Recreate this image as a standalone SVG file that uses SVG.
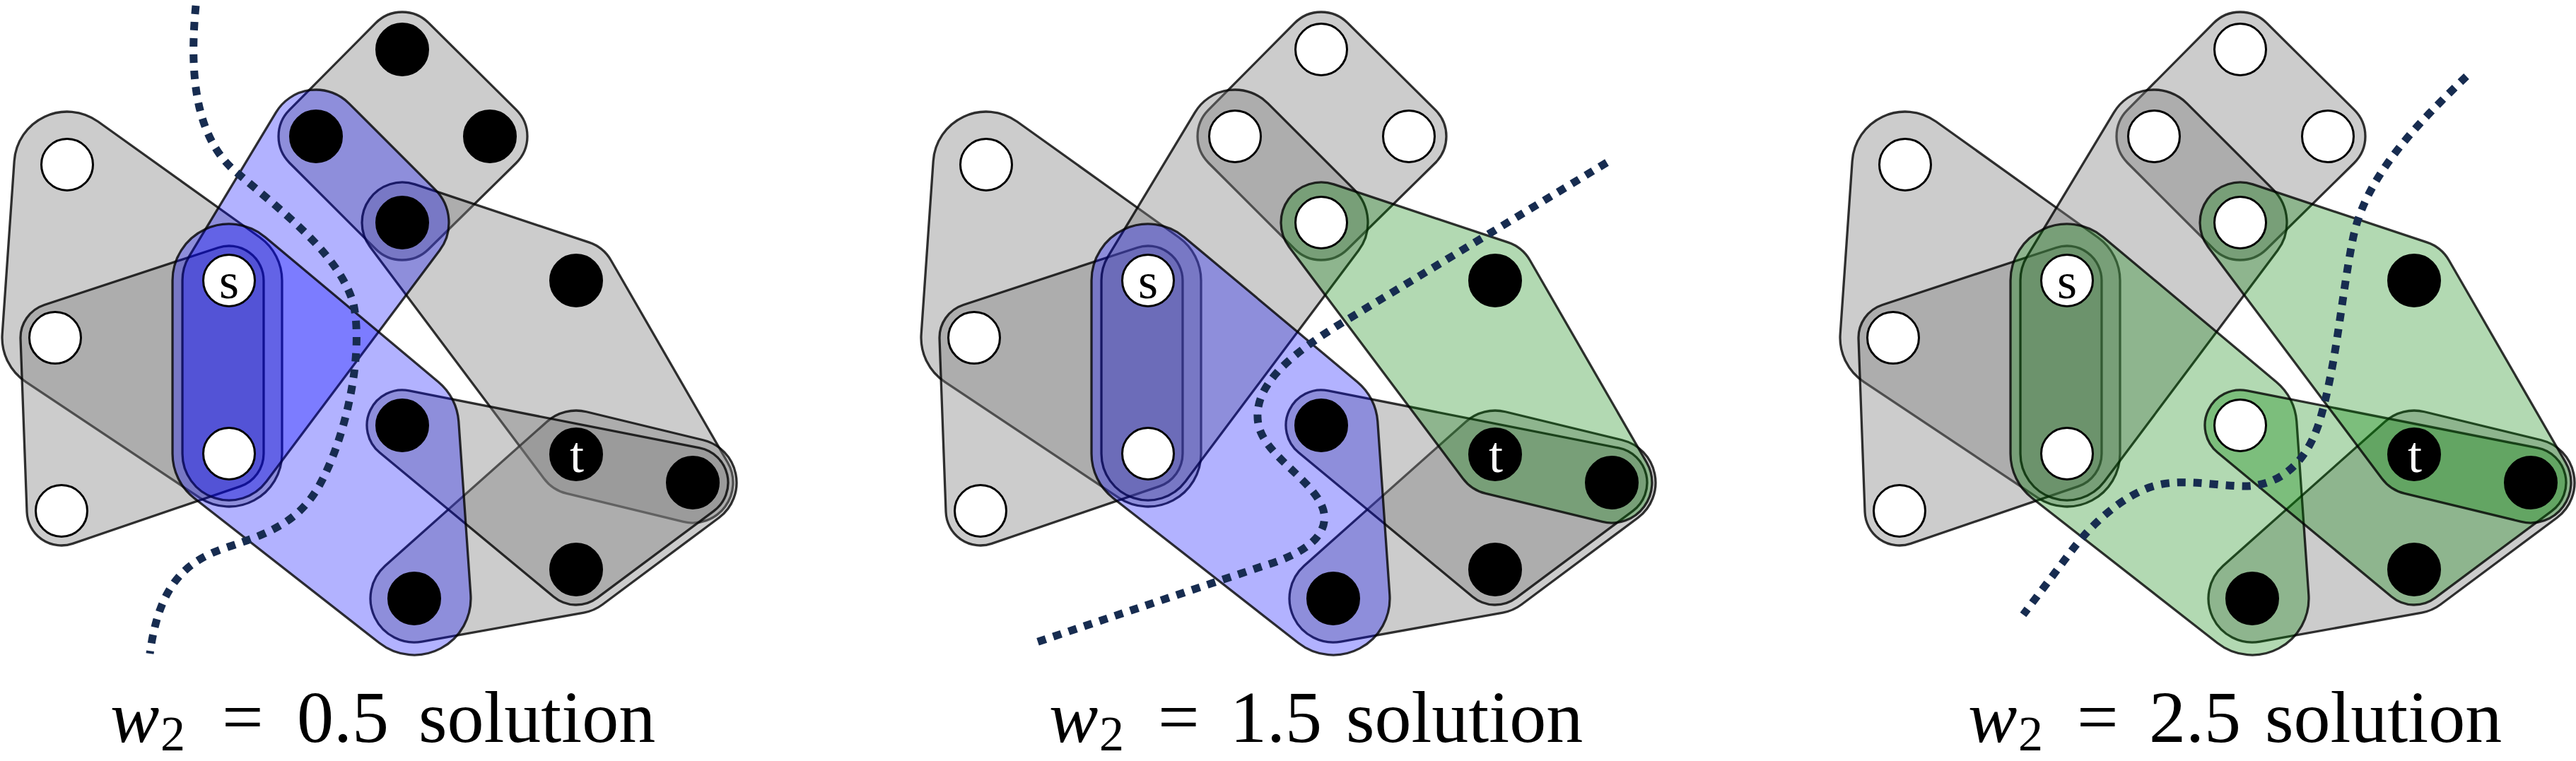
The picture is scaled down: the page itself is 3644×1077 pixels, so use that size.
<svg xmlns="http://www.w3.org/2000/svg" width="3644" height="1077" viewBox="0 0 3644 1077">
<style>
.he{stroke:#000;stroke-opacity:0.8;stroke-width:3.3;stroke-linejoin:round}
.gray{fill:#808080;fill-opacity:0.4}
.blue{fill:#0000ff;fill-opacity:0.3}
.green{fill:#008000;fill-opacity:0.3}
.wn{fill:#fff;stroke:#000;stroke-width:3}
.bn{fill:#000;stroke:#000;stroke-width:3}
.cut{fill:none;stroke:#172c50;stroke-width:11;stroke-dasharray:12 11}
.lbl{font-size:72px;text-anchor:middle}
.cap{font-size:104px;fill:#000}
</style>
<defs>
<path id="T1" d="M138.67,172.02 L367.67,336.02 A75,75 0 0 1 399,397 L399,642 A75,75 0 0 1 282.40,704.40 L36.40,540.40 A75,75 0 0 1 3.18,472.81 L20.18,227.81 A75,75 0 0 1 138.67,172.02 Z"/>
<path id="T2" d="M62.68,431.46 L308.68,350.46 A49,49 0 0 1 373,397 L373,642 A49,49 0 0 1 339.85,688.37 L102.85,769.37 A49,49 0 0 1 38.03,724.80 L29.03,479.80 A49,49 0 0 1 62.68,431.46 Z"/>
<path id="D" d="M606.32,32.37 L730.32,155.37 A53,53 0 0 1 730.17,230.78 L606.17,352.78 A53,53 0 0 1 531.52,352.48 L409.52,230.48 A53,53 0 0 1 409.37,155.68 L531.37,32.68 A53,53 0 0 1 606.32,32.37 Z"/>
<path id="X" d="M493.67,146.33 L615.67,268.33 A66,66 0 0 1 621.82,354.57 L376.82,681.57 A66,66 0 0 1 258,642 L258,397 A66,66 0 0 1 267.48,362.92 L390.48,158.92 A66,66 0 0 1 493.67,146.33 Z"/>
<path id="B" d="M375.34,335.65 L620.34,540.65 A80,80 0 0 1 648.81,596.46 L665.81,841.46 A80,80 0 0 1 536.70,910.01 L274.70,705.01 A80,80 0 0 1 244,642 L244,397 A80,80 0 0 1 375.34,335.65 Z"/>
<path id="Q1" d="M587.02,260.93 L833.02,342.93 A57,57 0 0 1 864.37,368.52 L1029.37,654.52 A57,57 0 0 1 966.57,738.40 L801.57,698.40 A57,57 0 0 1 769.4,677.2 L523.4,349.2 A57,57 0 0 1 587.02,260.93 Z"/>
<path id="Q2" d="M829.61,582.75 L994.61,622.75 A62,62 0 0 1 1017.06,732.71 L852.06,855.71 A62,62 0 0 1 825.93,867.03 L596.93,908.03 A62,62 0 0 1 544.76,800.71 L773.76,596.71 A62,62 0 0 1 829.61,582.75 Z"/>
<path id="P" d="M578.67,552.94 L989.67,633.94 A50,50 0 0 1 1009.88,723.09 L844.88,846.09 A50,50 0 0 1 783.08,844.49 L537.08,640.49 A50,50 0 0 1 578.67,552.94 Z"/>
</defs>
<rect width="3644" height="1077" fill="#fff"/>

<g id="panel1">
 <g id="p1-hyperedges">
  <use href="#T1" class="he gray"/>
  <use href="#T2" class="he gray"/>
  <use href="#D" class="he gray"/>
  <use href="#Q1" class="he gray"/>
  <use href="#Q2" class="he gray"/>
  <use href="#P" class="he gray"/>
  <use href="#X" class="he blue"/>
  <use href="#B" class="he blue"/>
 </g>
 <g id="p1-connectors">
  <path class="cut" d="M277,8 C268,100 275,190 330,240 C400,300 480,360 500,430 C515,500 490,620 450,690 C420,740 380,755 320,775 C260,795 225,830 212,925"/>
 </g>
 <g id="p1-nodes">
  <g id="p1-n1"><circle class="bn" cx="569" cy="70" r="36.5"/></g>
  <g id="p1-n2"><circle class="bn" cx="693" cy="193" r="36.5"/></g>
  <g id="p1-n3"><circle class="bn" cx="447" cy="193" r="36.5"/></g>
  <g id="p1-n4"><circle class="bn" cx="569" cy="315" r="36.5"/></g>
  <g id="p1-n5"><circle class="bn" cx="815" cy="397" r="36.5"/></g>
  <g id="p1-n6"><circle class="wn" cx="95" cy="233" r="36.5"/></g>
  <g id="p1-s"><circle class="wn" cx="324" cy="397" r="36.5"/><text class="lbl" font-family="'Liberation Serif','DejaVu Serif',serif" x="324" y="422">s</text></g>
  <g id="p1-n8"><circle class="wn" cx="78" cy="478" r="36.5"/></g>
  <g id="p1-n9"><circle class="wn" cx="324" cy="642" r="36.5"/></g>
  <g id="p1-n10"><circle class="wn" cx="87" cy="723" r="36.5"/></g>
  <g id="p1-n11"><circle class="bn" cx="569" cy="602" r="36.5"/></g>
  <g id="p1-t"><circle class="bn" cx="815" cy="643" r="36.5"/><text class="lbl" font-family="'Liberation Serif','DejaVu Serif',serif" x="816" y="668" fill="#fff">t</text></g>
  <g id="p1-n13"><circle class="bn" cx="980" cy="683" r="36.5"/></g>
  <g id="p1-n14"><circle class="bn" cx="815" cy="806" r="36.5"/></g>
  <g id="p1-n15"><circle class="bn" cx="586" cy="847" r="36.5"/></g>
 </g>
 <text id="p1-caption" class="cap" font-family="'Liberation Serif','DejaVu Serif',serif" y="1050"><tspan x="156" font-style="italic">w</tspan><tspan x="227" dy="12" font-size="70">2</tspan><tspan x="314" dy="-12">=</tspan><tspan x="420">0.5</tspan><tspan x="592">solution</tspan></text>
</g>

<g id="panel2" transform="translate(1300,0)">
 <g id="p2-hyperedges">
  <use href="#T1" class="he gray"/>
  <use href="#T2" class="he gray"/>
  <use href="#D" class="he gray"/>
  <use href="#X" class="he gray"/>
  <use href="#Q2" class="he gray"/>
  <use href="#P" class="he gray"/>
  <use href="#B" class="he blue"/>
  <use href="#Q1" class="he green"/>
 </g>
 <g id="p2-connectors">
  <path class="cut" d="M973,230 L590,462 C530,500 470,545 480,600 C488,645 560,680 572,722 C582,760 540,785 490,800 L163,910"/>
 </g>
 <g id="p2-nodes">
  <g id="p2-n1"><circle class="wn" cx="569" cy="70" r="36.5"/></g>
  <g id="p2-n2"><circle class="wn" cx="693" cy="193" r="36.5"/></g>
  <g id="p2-n3"><circle class="wn" cx="447" cy="193" r="36.5"/></g>
  <g id="p2-n4"><circle class="wn" cx="569" cy="315" r="36.5"/></g>
  <g id="p2-n5"><circle class="bn" cx="815" cy="397" r="36.5"/></g>
  <g id="p2-n6"><circle class="wn" cx="95" cy="233" r="36.5"/></g>
  <g id="p2-s"><circle class="wn" cx="324" cy="397" r="36.5"/><text class="lbl" font-family="'Liberation Serif','DejaVu Serif',serif" x="324" y="422">s</text></g>
  <g id="p2-n8"><circle class="wn" cx="78" cy="478" r="36.5"/></g>
  <g id="p2-n9"><circle class="wn" cx="324" cy="642" r="36.5"/></g>
  <g id="p2-n10"><circle class="wn" cx="87" cy="723" r="36.5"/></g>
  <g id="p2-n11"><circle class="bn" cx="569" cy="602" r="36.5"/></g>
  <g id="p2-t"><circle class="bn" cx="815" cy="643" r="36.5"/><text class="lbl" font-family="'Liberation Serif','DejaVu Serif',serif" x="816" y="668" fill="#fff">t</text></g>
  <g id="p2-n13"><circle class="bn" cx="980" cy="683" r="36.5"/></g>
  <g id="p2-n14"><circle class="bn" cx="815" cy="806" r="36.5"/></g>
  <g id="p2-n15"><circle class="bn" cx="586" cy="847" r="36.5"/></g>
 </g>
 <text id="p2-caption" class="cap" font-family="'Liberation Serif','DejaVu Serif',serif" y="1050"><tspan x="184" font-style="italic">w</tspan><tspan x="255" dy="12" font-size="70">2</tspan><tspan x="338" dy="-12">=</tspan><tspan x="440">1.5</tspan><tspan x="604">solution</tspan></text>
</g>

<g id="panel3" transform="translate(2600,0)">
 <g id="p3-hyperedges">
  <use href="#T1" class="he gray"/>
  <use href="#T2" class="he gray"/>
  <use href="#D" class="he gray"/>
  <use href="#X" class="he gray"/>
  <use href="#Q2" class="he gray"/>
  <use href="#B" class="he green"/>
  <use href="#P" class="he green"/>
  <use href="#Q1" class="he green"/>
 </g>
 <g id="p3-connectors">
  <path class="cut" d="M889,108 C820,175 745,250 728,340 C712,420 705,520 680,600 C660,660 620,690 570,688 C520,686 480,676 440,690 C400,705 360,740 330,780 L262,870"/>
 </g>
 <g id="p3-nodes">
  <g id="p3-n1"><circle class="wn" cx="569" cy="70" r="36.5"/></g>
  <g id="p3-n2"><circle class="wn" cx="693" cy="193" r="36.5"/></g>
  <g id="p3-n3"><circle class="wn" cx="447" cy="193" r="36.5"/></g>
  <g id="p3-n4"><circle class="wn" cx="569" cy="315" r="36.5"/></g>
  <g id="p3-n5"><circle class="bn" cx="815" cy="397" r="36.5"/></g>
  <g id="p3-n6"><circle class="wn" cx="95" cy="233" r="36.5"/></g>
  <g id="p3-s"><circle class="wn" cx="324" cy="397" r="36.5"/><text class="lbl" font-family="'Liberation Serif','DejaVu Serif',serif" x="324" y="422">s</text></g>
  <g id="p3-n8"><circle class="wn" cx="78" cy="478" r="36.5"/></g>
  <g id="p3-n9"><circle class="wn" cx="324" cy="642" r="36.5"/></g>
  <g id="p3-n10"><circle class="wn" cx="87" cy="723" r="36.5"/></g>
  <g id="p3-n11"><circle class="wn" cx="569" cy="602" r="36.5"/></g>
  <g id="p3-t"><circle class="bn" cx="815" cy="643" r="36.5"/><text class="lbl" font-family="'Liberation Serif','DejaVu Serif',serif" x="816" y="668" fill="#fff">t</text></g>
  <g id="p3-n13"><circle class="bn" cx="980" cy="683" r="36.5"/></g>
  <g id="p3-n14"><circle class="bn" cx="815" cy="806" r="36.5"/></g>
  <g id="p3-n15"><circle class="bn" cx="586" cy="847" r="36.5"/></g>
 </g>
 <text id="p3-caption" class="cap" font-family="'Liberation Serif','DejaVu Serif',serif" y="1050"><tspan x="184" font-style="italic">w</tspan><tspan x="255" dy="12" font-size="70">2</tspan><tspan x="338" dy="-12">=</tspan><tspan x="440">2.5</tspan><tspan x="604">solution</tspan></text>
</g>
</svg>
